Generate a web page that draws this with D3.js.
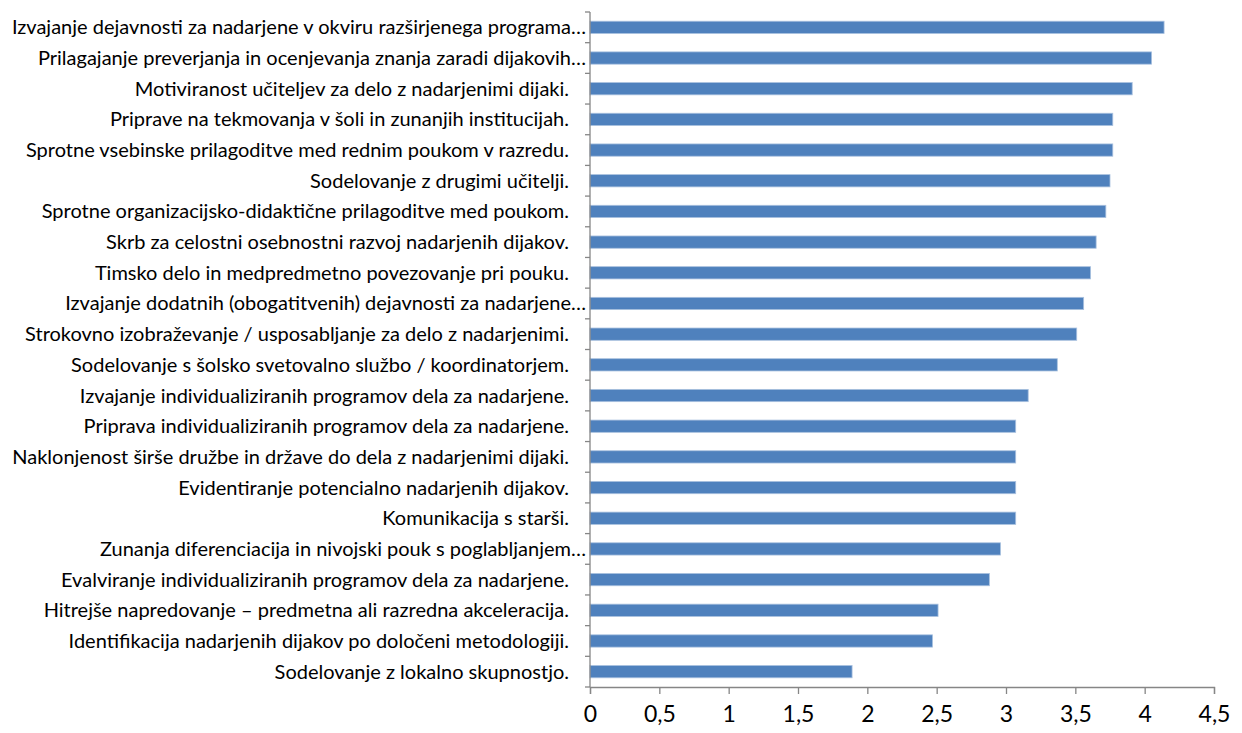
<!DOCTYPE html>
<html>
<head>
<meta charset="utf-8">
<script src="https://cdn.jsdelivr.net/npm/d3@7"></script>
<style>
  html, body { margin: 0; padding: 0; background: #fff; }
  svg { display: block; }
</style>
</head>
<body>
<script>
// Categories from top to bottom
const categories = [
  "Izvajanje dejavnosti za nadarjene v okviru razširjenega programa…",
  "Prilagajanje preverjanja in ocenjevanja znanja zaradi dijakovih…",
  "Motiviranost učiteljev za delo z nadarjenimi dijaki.",
  "Priprave na tekmovanja v šoli in zunanjih institucijah.",
  "Sprotne vsebinske prilagoditve med rednim poukom v razredu.",
  "Sodelovanje z drugimi učitelji.",
  "Sprotne organizacijsko-didaktične prilagoditve med poukom.",
  "Skrb za celostni osebnostni razvoj nadarjenih dijakov.",
  "Timsko delo in medpredmetno povezovanje pri pouku.",
  "Izvajanje dodatnih (obogatitvenih) dejavnosti za nadarjene…",
  "Strokovno izobraževanje / usposabljanje za delo z nadarjenimi.",
  "Sodelovanje s šolsko svetovalno službo / koordinatorjem.",
  "Izvajanje individualiziranih programov dela za nadarjene.",
  "Priprava individualiziranih programov dela za nadarjene.",
  "Naklonjenost širše družbe in države do dela z nadarjenimi dijaki.",
  "Evidentiranje potencialno nadarjenih dijakov.",
  "Komunikacija s starši.",
  "Zunanja diferenciacija in nivojski pouk s poglabljanjem…",
  "Evalviranje individualiziranih programov dela za nadarjene.",
  "Hitrejše napredovanje – predmetna ali razredna akceleracija.",
  "Identifikacija nadarjenih dijakov po določeni metodologiji.",
  "Sodelovanje z lokalno skupnostjo."
];

// Mean score for each category
const values = [
  4.14, 4.05, 3.91, 3.77, 3.77, 3.75, 3.72, 3.65, 3.61, 3.56, 3.51,
  3.37, 3.16, 3.07, 3.07, 3.07, 3.07, 2.96, 2.88, 2.51, 2.47, 1.89
];

// Value axis ticks
const xTicks = [0, 0.5, 1, 1.5, 2, 2.5, 3, 3.5, 4, 4.5];

const data = categories.map((c, i) => ({ category: c, value: values[i] }));

const W = 1242, H = 733;
const plot = { left: 590, right: 1214, top: 12, bottom: 687 };
const axisColor = "#868686";
const barColor = "#4F81BD";
const fontFamily = "Lato, 'Open Sans', sans-serif";

const svg = d3.select("body").append("svg")
  .attr("width", W).attr("height", H);

const x = d3.scaleLinear().domain([0, 4.5]).range([plot.left, plot.right]);
const y = d3.scaleBand().domain(categories).range([plot.top, plot.bottom])
  .paddingInner(0.6).paddingOuter(0.3);
const yBand = d3.scaleBand().domain(categories).range([plot.top, plot.bottom]);

// Bars
svg.append("g").selectAll("rect")
  .data(data).join("rect")
  .attr("x", x(0))
  .attr("y", d => y(d.category))
  .attr("width", d => x(d.value) - x(0))
  .attr("height", y.bandwidth())
  .attr("fill", barColor)
  .attr("stroke", "#A9C1DF")
  .attr("stroke-width", 0.8);

// Category axis: boundary ticks between categories
const gy = svg.append("g");
gy.append("line")
  .attr("x1", plot.left).attr("x2", plot.left)
  .attr("y1", plot.top).attr("y2", plot.bottom)
  .attr("stroke", axisColor).attr("stroke-width", 1.3);
const boundaries = categories.map(c => yBand(c)).concat([plot.bottom]);
gy.selectAll("line.tick").data(boundaries).join("line")
  .attr("class", "tick")
  .attr("x1", plot.left - 5).attr("x2", plot.left)
  .attr("y1", d => d).attr("y2", d => d)
  .attr("stroke", axisColor).attr("stroke-width", 1.3);

// Category labels (truncated labels run right up to the axis)
gy.selectAll("text").data(categories).join("text")
  .attr("x", d => d.endsWith("…") ? plot.left - 4 : plot.left - 21)
  .attr("y", d => yBand(d) + yBand.bandwidth() / 2)
  .attr("dy", "0.35em")
  .attr("text-anchor", "end")
  .attr("font-family", fontFamily)
  .attr("font-size", 20)
  .attr("fill", "#000")
  .text(d => d);

// Value axis
const xAxis = d3.axisBottom(x)
  .tickValues(xTicks)
  .tickSize(7)
  .tickPadding(12)
  .tickFormat(d => String(d).replace(".", ","));
const gx = svg.append("g")
  .attr("transform", `translate(0,${plot.bottom})`)
  .call(xAxis);
gx.select(".domain").attr("stroke", axisColor).attr("stroke-width", 1.3);
gx.selectAll(".tick line").attr("stroke", axisColor).attr("stroke-width", 1.3);
gx.selectAll(".tick text")
  .attr("font-family", fontFamily)
  .attr("font-size", 23)
  .attr("fill", "#000");
</script>
</body>
</html>
